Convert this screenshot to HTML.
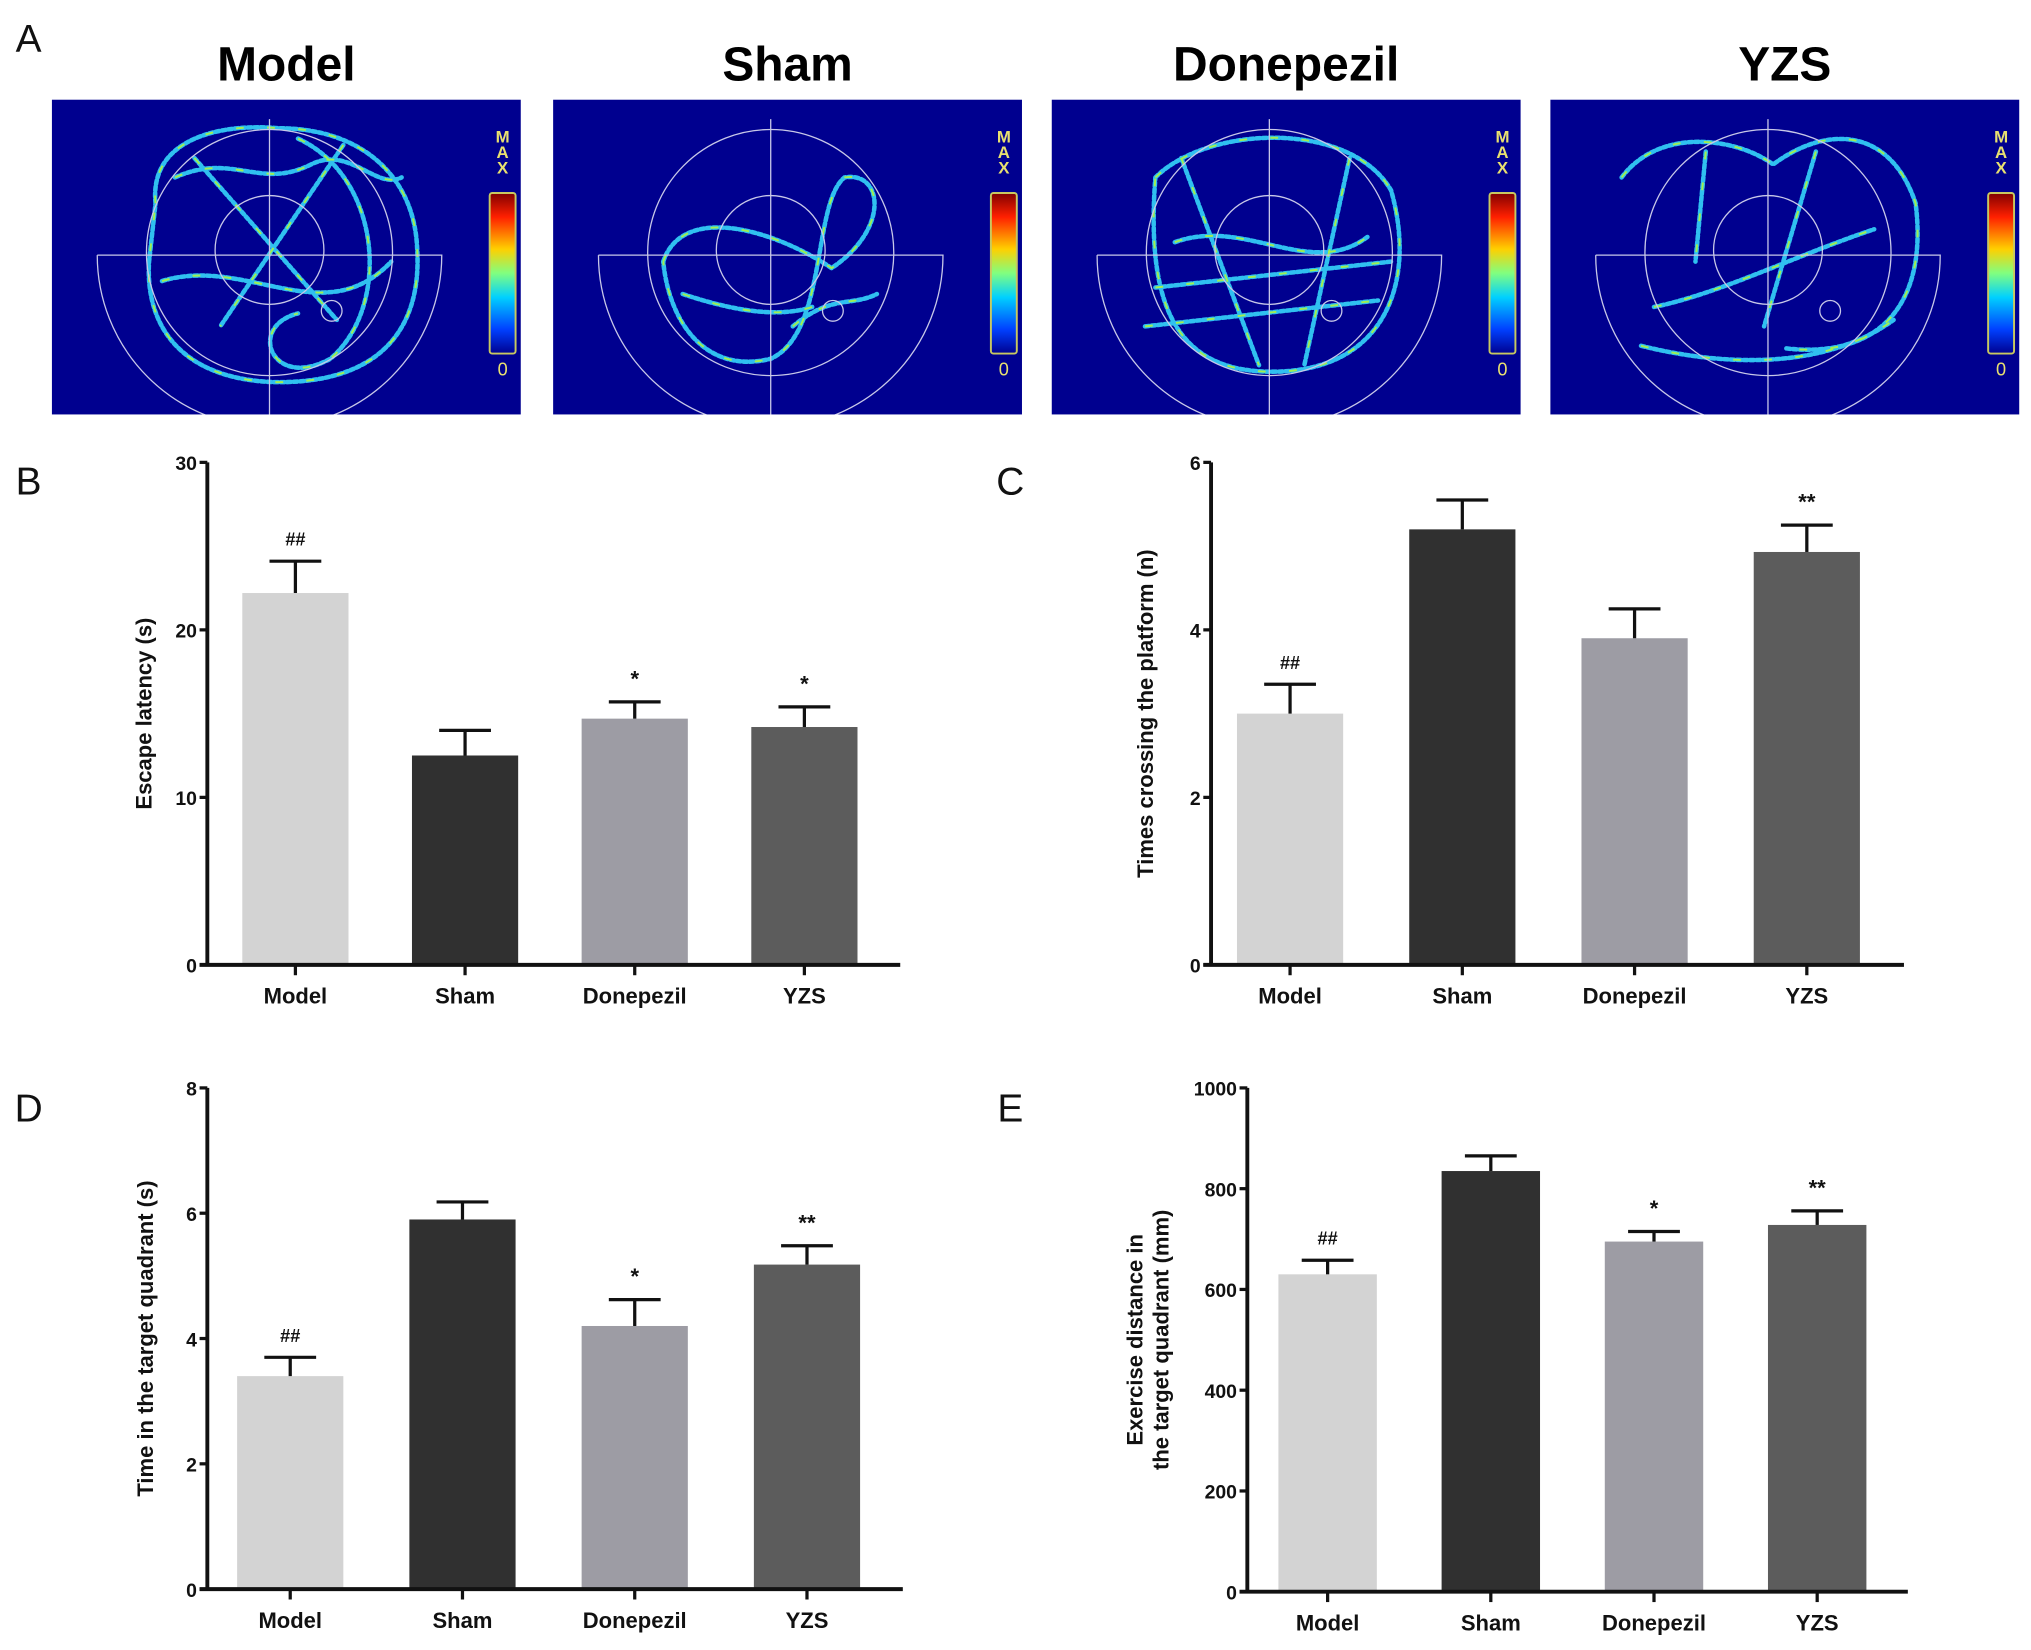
<!DOCTYPE html>
<html><head><meta charset="utf-8"><style>
html,body{margin:0;padding:0;background:#fff}
svg{display:block}
text{font-family:"Liberation Sans",Arial,sans-serif}
</style></head><body>
<svg id="fig" width="2031" height="1650" viewBox="0 0 1568 1274" xmlns="http://www.w3.org/2000/svg">
<defs><clipPath id="panelclip"><rect x="0" y="0" width="362" height="243"/></clipPath></defs>
<g id="heat"></g>
<g id="charts"></g>
</svg>
<script>
const groups = ["Model","Sham","Donepezil","YZS"];
const fills = ["#d3d3d3","#303030","#9d9ca4","#5c5c5c"];
const bMeans = [22.2,12.5,14.7,14.2];
const bErr = [1.9,1.5,1.0,1.2];
const bSig = ["##","","*","*"];
const cMeans = [3.0,5.2,3.9,4.93];
const cErr = [0.35,0.35,0.35,0.32];
const cSig = ["##","","","**"];
const dMeans = [3.4,5.9,4.2,5.18];
const dErr = [0.3,0.28,0.42,0.3];
const dSig = ["##","","*","**"];
const eMeans = [630,835,695,728];
const eErr = [28,30,20,28];
const eSig = ["##","","*","**"];
const bTicks = [0,10,20,30];
const cTicks = [0,2,4,6];
const dTicks = [0,2,4,6,8];
const eTicks = [0,200,400,600,800,1000];

const NS="http://www.w3.org/2000/svg";
function mk(parent,tag,attrs,txt){const e=document.createElementNS(NS,tag);for(const k in attrs)e.setAttribute(k,attrs[k]);if(txt!==undefined)e.textContent=txt;parent.appendChild(e);return e;}
const fig=document.getElementById('fig');
const heat=document.getElementById('heat');
const charts=document.getElementById('charts');

[["A",22,40],["B",22,382],["C",780,382],["D",22,866],["E",780,866]].forEach(p=>{
  const t=mk(fig,'text',{x:p[1],y:p[2],'font-size':30,fill:'#111','text-anchor':'middle'},p[0]);
  
  
});

// trajectories in panel-local coords (center ~168,120)
const traj=[
 ["M80 80 C75 30 130 18 175 22 C240 22 280 60 282 115 C286 180 250 220 170 218 C100 215 72 175 75 125 Z","M110 45 L220 170 M225 35 L130 175 M85 140 C150 120 210 180 262 125","M190 30 C255 60 262 160 215 200 C170 225 150 175 190 165","M95 60 C140 40 160 70 200 50 C230 35 250 70 270 60"],
 ["M85 125 C100 80 170 100 215 130 C260 100 255 55 225 60 C200 80 212 180 168 200 C120 212 90 175 85 125","M185 175 C215 150 230 160 250 150","M100 150 C130 160 170 170 200 160"],
 ["M80 60 C120 20 230 15 262 70 C282 140 258 210 170 210 C100 210 72 165 80 60","M80 145 L262 125 M72 175 L252 155 M100 45 L160 205 M230 45 L195 205","M95 110 C150 90 200 140 245 105"],
 ["M55 60 C85 20 145 30 172 50 C212 20 262 20 282 80 C292 160 252 200 182 192","M80 160 C130 150 190 120 250 100 M70 190 C130 205 210 210 265 170","M120 40 L112 125 M205 40 L165 175"]
];
const hx=[40,427,812,1197];
groups.forEach((g,i)=>{
  const x0=hx[i];
  const t=mk(heat,'text',{x:x0+181,y:62,'font-size':37,'font-weight':'bold','text-anchor':'middle',fill:'#000'},g);
  
  
  const gg=mk(heat,'g',{transform:`translate(${x0},77)`});
  
  
  mk(gg,'rect',{x:0,y:0,width:362,height:243,fill:'#00008f'});
  const cl=mk(gg,'g',{'clip-path':'url(#panelclip)'});
  traj[i].forEach(d=>mk(cl,'path',{d:d,fill:'none',stroke:'#30c0f0','stroke-width':3.5,'stroke-dasharray':'3 2','stroke-linecap':'round'}));
  traj[i].forEach(d=>mk(cl,'path',{d:d,fill:'none',stroke:'#a0f050','stroke-width':1.5,'stroke-dasharray':'6 18'}));
  const cx=168,cy=120;
  mk(cl,'circle',{cx:cx,cy:cy-2,r:95,fill:'none',stroke:'#c8c8e8','stroke-width':1});
  mk(cl,'circle',{cx:cx,cy:cy-4,r:42,fill:'none',stroke:'#c8c8e8','stroke-width':1});
  mk(cl,'path',{d:`M${cx-133} ${cy} L${cx+133} ${cy} A133 133 0 0 1 ${cx-133} ${cy}`,fill:'none',stroke:'#c8c8e8','stroke-width':1});
  mk(cl,'line',{x1:cx,y1:15,x2:cx,y2:243,stroke:'#c8c8e8','stroke-width':1});
  mk(cl,'circle',{cx:cx+48,cy:cy+43,r:8,fill:'none',stroke:'#c8c8e8','stroke-width':1});
  const grad=mk(gg,'linearGradient',{id:'cb'+i,x1:0,y1:0,x2:0,y2:1});
  [["0","#800000"],["0.15","#ff2000"],["0.35","#ffd000"],["0.5","#80ff80"],["0.65","#00d0ff"],["0.85","#0040ff"],["1","#000090"]].forEach(s=>mk(grad,'stop',{offset:s[0],'stop-color':s[1]}));
  const cb=mk(gg,'rect',{x:338,y:72,width:20,height:124,fill:`url(#cb${i})`,stroke:'#c8c860','stroke-width':1.5,rx:2});
  
  
  ['M','A','X'].forEach((c,k)=>mk(gg,'text',{x:348,y:33+k*12,'font-size':13,'font-family':'Liberation Serif','font-weight':'bold','text-anchor':'middle',fill:'#e8e070'},c));
  mk(gg,'text',{x:348,y:213,'font-size':14,'font-family':'Liberation Serif','text-anchor':'middle',fill:'#e8e070'},'0');
});

function chart(name,ax,top,bottom,xEnd,barL,barW,step,tickVals,maxV,means,errs,sigs,ylabel){
  const g=mk(charts,'g',{});
  
  
  const y=v=>bottom-(v/maxV)*(bottom-top);
  const xs=i=>barL+i*step;
  means.forEach((m,i)=>{
    const r=mk(g,'rect',{x:xs(i),y:y(m),width:barW,height:bottom-y(m),fill:fills[i]});
    
    
    const c=xs(i)+barW/2;
    mk(g,'line',{x1:c,y1:y(m),x2:c,y2:y(m+errs[i]),stroke:'#111','stroke-width':2.5});
    mk(g,'line',{x1:c-20,y1:y(m+errs[i]),x2:c+20,y2:y(m+errs[i]),stroke:'#111','stroke-width':2.5});
    if(sigs[i]){const s=mk(g,'text',{x:c,y:y(m+errs[i])-12,'font-size':sigs[i][0]=='#'?14:17,'font-weight':'bold','text-anchor':'middle',fill:'#111'},sigs[i]);
      
      }
    mk(g,'line',{x1:c,y1:bottom,x2:c,y2:bottom+8,stroke:'#111','stroke-width':2.5});
    const l=mk(g,'text',{x:c,y:bottom+30,'font-size':17,'font-weight':'bold','text-anchor':'middle',fill:'#111'},groups[i]);
    
    
  });
  mk(g,'line',{x1:ax,y1:top,x2:ax,y2:bottom+1,stroke:'#111','stroke-width':3});
  mk(g,'line',{x1:ax-6,y1:bottom,x2:xEnd,y2:bottom,stroke:'#111','stroke-width':3});
  tickVals.forEach(v=>{
    mk(g,'line',{x1:ax-6,y1:y(v),x2:ax,y2:y(v),stroke:'#111','stroke-width':2.5});
    const t=mk(g,'text',{x:ax-8,y:y(v)+6,'font-size':15,'font-weight':'bold','text-anchor':'end',fill:'#111'},v);
    
    
  });
  const mid=(top+bottom)/2;
  const yl=mk(g,'text',{transform:`translate(${ylabel.x},${mid}) rotate(-90)`,'font-size':17,'font-weight':'bold','text-anchor':'middle',fill:'#111'});
  
  
  ylabel.lines.forEach((ln,k)=>mk(yl,'tspan',{x:0,dy:k?20:0},ln));
}
chart('chart-escape-latency',160,357,745,695,187,82,131,bTicks,30,bMeans,bErr,bSig,{x:117,lines:['Escape latency (s)']});
chart('chart-times-crossing',935,357,745,1470,955,82,133,cTicks,6,cMeans,cErr,cSig,{x:890,lines:['Times crossing the platform (n)']});
chart('chart-time-target-quadrant',160,840,1227,697,183,82,133,dTicks,8,dMeans,dErr,dSig,{x:118,lines:['Time in the target quadrant (s)']});
chart('chart-exercise-distance',963,840,1229,1473,987,76,126,eTicks,1000,eMeans,eErr,eSig,{x:882,lines:['Exercise distance in','the target quadrant (mm)']});
</script>
</body></html>
